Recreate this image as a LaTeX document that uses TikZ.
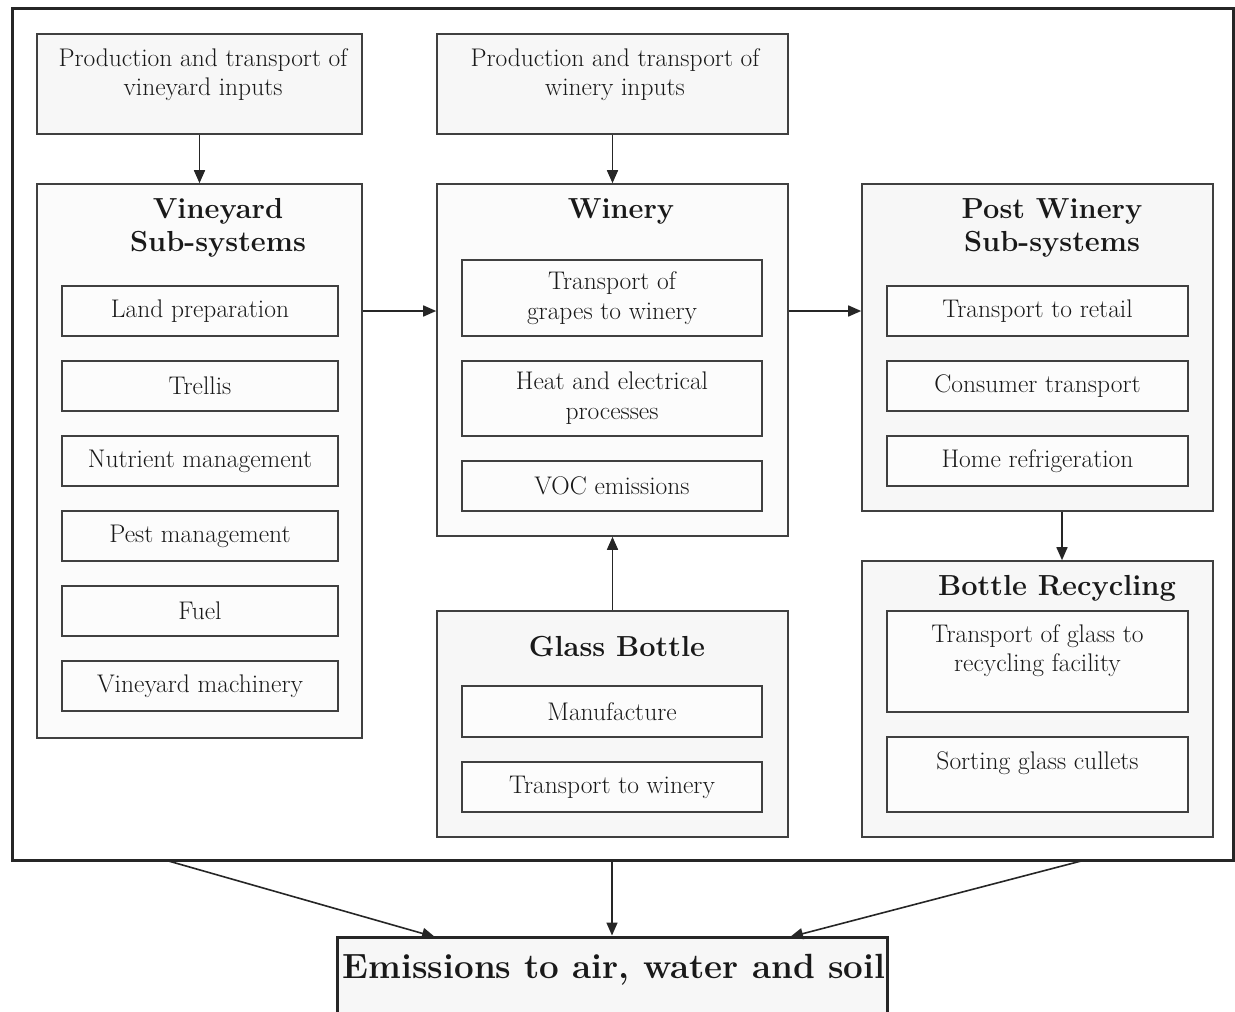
\documentclass[tikz,border=0pt]{standalone}
\usepackage{tikz}
\usetikzlibrary{arrows.meta, positioning}
\definecolor{boxline}{HTML}{404040}
\definecolor{boxfill}{HTML}{F7F7F7}
\tikzset{
  frame/.style={draw=black!85, line width=3pt, inner sep=0pt},
  grpbox/.style={draw=boxline, fill=boxfill, line width=1.6pt, inner sep=0pt},
  itembox/.style={draw=boxline, fill=white!60!boxfill, line width=1.6pt, inner sep=0pt,
    align=center, font=\fontsize{25.5}{30}\selectfont, text=black!90},
  bodytxt/.style={inner sep=0pt, align=center, font=\fontsize{25.5}{29}\selectfont, text=black!90},
  headtxt/.style={inner sep=0pt, align=center, font=\fontsize{29}{33}\selectfont\bfseries, text=black!90},
  flow/.style={draw=black!85, line width=1.6pt, -{Triangle[length=13pt,width=11pt]}},
}
\begin{document}
\begin{tikzpicture}[x=1pt,y=-1pt]
\useasboundingbox (0,0) rectangle (1235,1012);
% system boundary
\node[frame, minimum width=1221, minimum height=852] (frm) at (622.5,434) {};

% inputs
\node[grpbox, minimum width=325, minimum height=100] (vinin) at (199.5,84) {};
\node[bodytxt] (vinintxt) at (203,75) {Production and transport of\\vineyard inputs};
\node[grpbox, minimum width=351, minimum height=100] (wryin) at (612.5,84) {};
\node[bodytxt] (wryintxt) at (615,75) {Production and transport of\\winery inputs};

% vineyard
\node[grpbox, fill=white!50!boxfill, minimum width=325, minimum height=554] (vin) at (199.5,461) {};
\node[headtxt] (vintxt) at (218,228) {Vineyard\\Sub-systems};
\node[itembox, minimum width=276, minimum height=50] (land) at (200,311) {Land preparation};
\node[itembox, minimum width=276, minimum height=50] (trel) at (200,386) {Trellis};
\node[itembox, minimum width=276, minimum height=50] (nutr) at (200,461) {Nutrient management};
\node[itembox, minimum width=276, minimum height=50] (pest) at (200,536) {Pest management};
\node[itembox, minimum width=276, minimum height=50] (fuel) at (200,611) {Fuel};
\node[itembox, minimum width=276, minimum height=50] (mach) at (200,686) {Vineyard machinery};

% winery
\node[grpbox, fill=white!50!boxfill, minimum width=351, minimum height=352] (wry) at (612.5,360) {};
\node[headtxt] (wrytxt) at (621,211) {Winery};
\node[itembox, minimum width=300, minimum height=76] (grap) at (612,298) {Transport of\\grapes to winery};
\node[itembox, minimum width=300, minimum height=75] (heat) at (612,398.5) {Heat and electrical\\processes};
\node[itembox, minimum width=300, minimum height=50] (voc) at (612,486) {VOC emissions};

% post winery
\node[grpbox, minimum width=351, minimum height=327] (post) at (1037.5,347.5) {};
\node[headtxt] (posttxt) at (1052,228) {Post Winery\\Sub-systems};
\node[itembox, minimum width=301, minimum height=50] (retl) at (1037.5,311) {Transport to retail};
\node[itembox, minimum width=301, minimum height=50] (cons) at (1037.5,386) {Consumer transport};
\node[itembox, minimum width=301, minimum height=50] (refr) at (1037.5,461) {Home refrigeration};

% glass bottle
\node[grpbox, minimum width=351, minimum height=226] (glas) at (612.5,724) {};
\node[headtxt] (glastxt) at (617,647) {Glass Bottle};
\node[itembox, minimum width=300, minimum height=51] (manu) at (612,711.5) {Manufacture};
\node[itembox, minimum width=300, minimum height=50] (gtrn) at (612,787) {Transport to winery};

% bottle recycling
\node[grpbox, minimum width=351, minimum height=276] (recy) at (1037.5,699) {};
\node[headtxt] (recytxt) at (1057,588) {Bottle Recycling};
\node[itembox, minimum width=301, minimum height=101] (rtrn) at (1037.5,661.5) {};
\node[bodytxt, below=14pt of rtrn.north] (rtrntxt) {Transport of glass to\\recycling facility};
\node[itembox, minimum width=301, minimum height=75] (sort) at (1037.5,774.5) {};
\node[bodytxt, below=15pt of sort.north] (sorttxt) {Sorting glass cullets};

% emissions
\node[frame, fill=boxfill, minimum width=550, minimum height=90] (emis) at (612,982) {};
\node[inner sep=0pt, font=\fontsize{35}{40}\selectfont\bfseries, text=black!90] (emistxt) at (614,970) {Emissions to air, water and soil};

% flows
\draw[flow] (vinin) -- (vin);
\draw[flow] (wryin) -- (wry);
\draw[flow] (vin.east |- land) -- (wry.west |- land);
\draw[flow] (wry.east |- retl) -- (post.west |- retl);
\draw[flow] (post.south -| 1062,0) -- (recy.north -| 1062,0);
\draw[flow] (glas) -- (wry);
\coordinate (outl) at (165,860);
\coordinate (outr) at (1085,860);
\coordinate (inl) at (435,937);
\coordinate (inr) at (790,937);
\draw[flow] (outl) -- (inl);
\draw[flow] (frm.south -| emis) -- (emis);
\draw[flow] (outr) -- (inr);
\end{tikzpicture}
\end{document}
